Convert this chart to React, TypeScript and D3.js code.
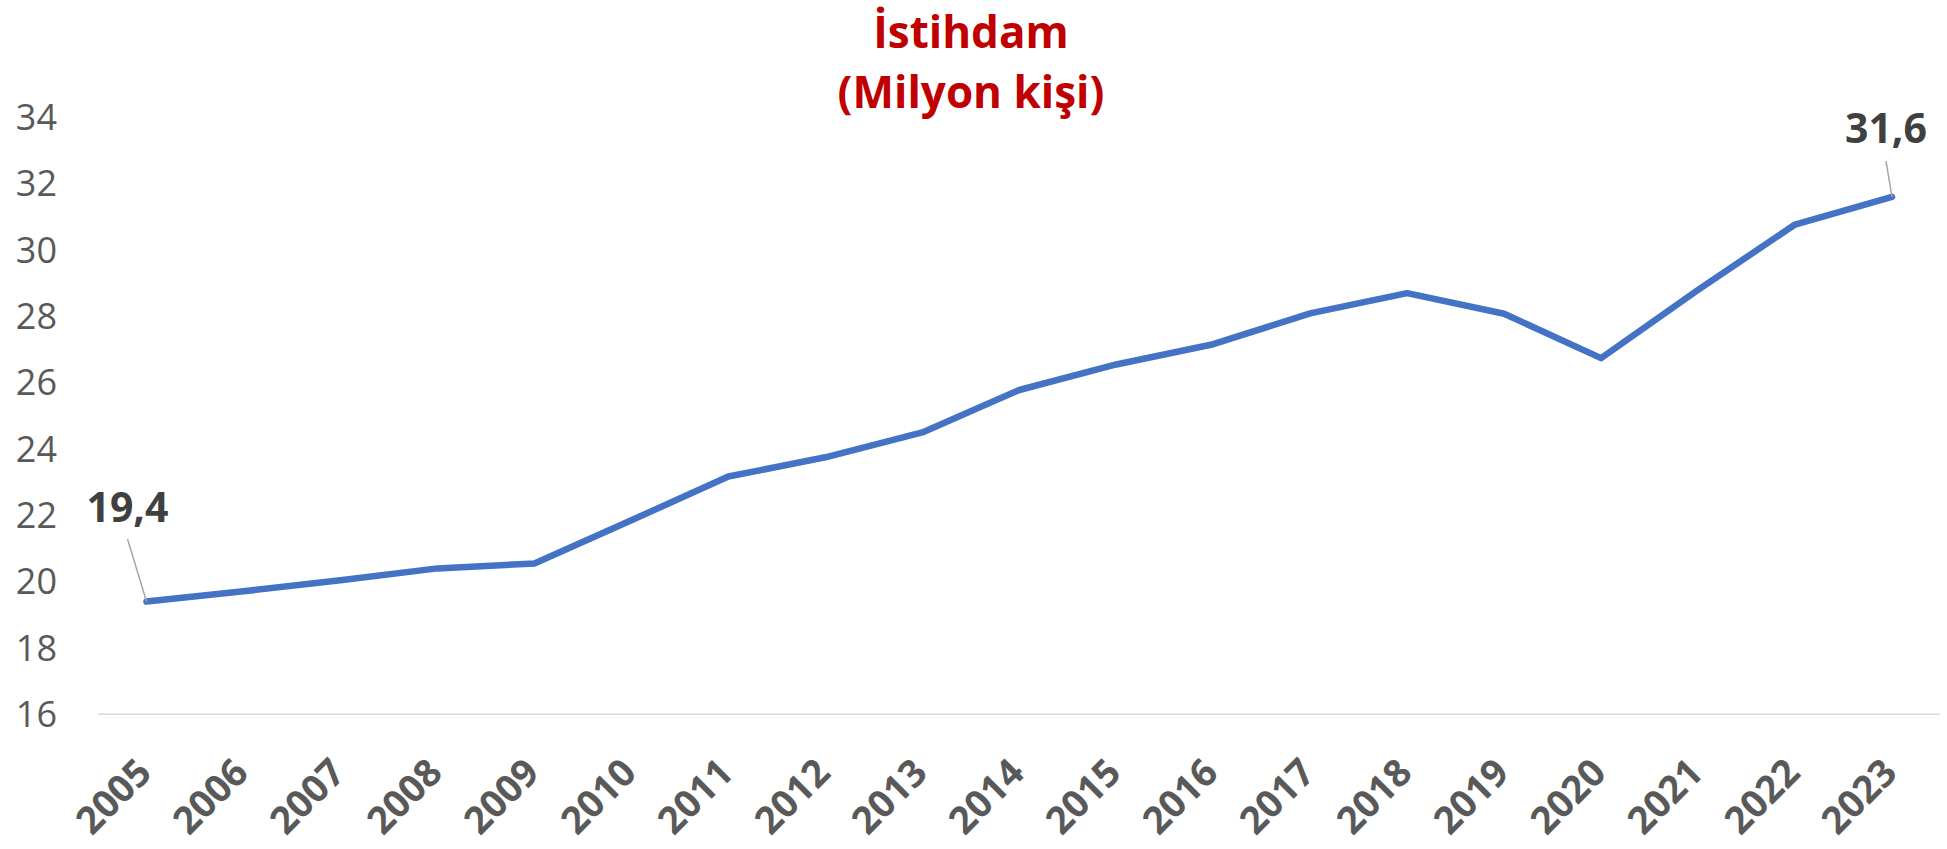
import React, { useEffect, useRef } from 'react';
import * as d3 from 'd3';

const years = ['2005', '2006', '2007', '2008', '2009', '2010', '2011', '2012', '2013', '2014',
  '2015', '2016', '2017', '2018', '2019', '2020', '2021', '2022', '2023'];
const employment = [19.4, 19.71, 20.04, 20.4, 20.55, 21.85, 23.17, 23.75, 24.5, 25.78,
  26.55, 27.16, 28.09, 28.7, 28.08, 26.74, 28.8, 30.77, 31.6];
const yTicks = [16, 18, 20, 22, 24, 26, 28, 30, 32, 34];
const titleLines = ['İstihdam', '(Milyon kişi)'];

const WIDTH = 1947;
const HEIGHT = 849;

export default function App() {
  const svgRef = useRef<SVGSVGElement>(null);

  useEffect(() => {
    if (!svgRef.current) return;
    document.body.style.margin = '0';

    const svg = d3.select(svgRef.current);
    svg.selectAll('*').remove();

    const font = "'Open Sans', 'Noto Sans', sans-serif";

    const xScale = d3.scalePoint<string>().domain(years).range([146.5, 1892]);
    const yScale = d3.scaleLinear().domain([16, 34]).range([714.3, 117.4]);

    // baseline gridline (only the 16 line is drawn)
    svg.append('line')
      .attr('x1', 98)
      .attr('x2', 1940)
      .attr('y1', yScale(16))
      .attr('y2', yScale(16))
      .attr('stroke', '#d9d9d9')
      .attr('stroke-width', 1.5);

    // y tick labels
    svg.append('g')
      .selectAll('text')
      .data(yTicks)
      .enter()
      .append('text')
      .attr('x', 57)
      .attr('y', (d) => yScale(d))
      .attr('dy', '0.35em')
      .attr('text-anchor', 'end')
      .attr('font-family', font)
      .attr('font-size', 36)
      .attr('fill', '#595959')
      .text((d) => d);

    // x tick labels, rotated
    svg.append('g')
      .selectAll('text')
      .data(years)
      .enter()
      .append('text')
      .attr('transform', (d) => `translate(${(xScale(d) || 0) + 7},${775}) rotate(-45)`)
      .attr('text-anchor', 'end')
      .attr('font-family', font)
      .attr('font-size', 38)
      .attr('font-weight', 700)
      .attr('fill', '#595959')
      .text((d) => d);

    // series line
    const line = d3.line<number>()
      .x((_, i) => xScale(years[i]) || 0)
      .y((d) => yScale(d));

    svg.append('path')
      .datum(employment)
      .attr('d', line)
      .attr('fill', 'none')
      .attr('stroke', '#4472C4')
      .attr('stroke-width', 6.5)
      .attr('stroke-linejoin', 'round')
      .attr('stroke-linecap', 'round');

    // data labels on first and last point
    const fmt = (v: number) => d3.format('.1f')(v).replace('.', ',');
    const labels = [
      { i: 0, dx: -19, baseline: 522, leaderTop: 539 },
      { i: years.length - 1, dx: -6, baseline: 143, leaderTop: 161 },
    ];
    labels.forEach((l) => {
      const px = xScale(years[l.i]) || 0;
      const py = yScale(employment[l.i]);
      const lx = px + l.dx;
      svg.append('line')
        .attr('x1', lx)
        .attr('y1', l.leaderTop)
        .attr('x2', px)
        .attr('y2', py)
        .attr('stroke', '#a6a6a6')
        .attr('stroke-width', 1.5);
      svg.append('text')
        .attr('x', lx)
        .attr('y', l.baseline)
        .attr('text-anchor', 'middle')
        .attr('font-family', font)
        .attr('font-size', 41)
        .attr('font-weight', 700)
        .attr('fill', '#404040')
        .text(fmt(employment[l.i]));
    });

    // title
    svg.append('g')
      .selectAll('text')
      .data(titleLines)
      .enter()
      .append('text')
      .attr('x', 971)
      .attr('y', (_, i) => 48 + i * 60)
      .attr('text-anchor', 'middle')
      .attr('font-family', font)
      .attr('font-size', 44)
      .attr('font-weight', 700)
      .attr('fill', '#C00000')
      .text((d) => d);
  }, []);

  return (
    <svg
      ref={svgRef}
      width={WIDTH}
      height={HEIGHT}
      style={{ display: 'block', position: 'absolute', left: 0, top: 0, background: '#fff' }}
    />
  );
}
